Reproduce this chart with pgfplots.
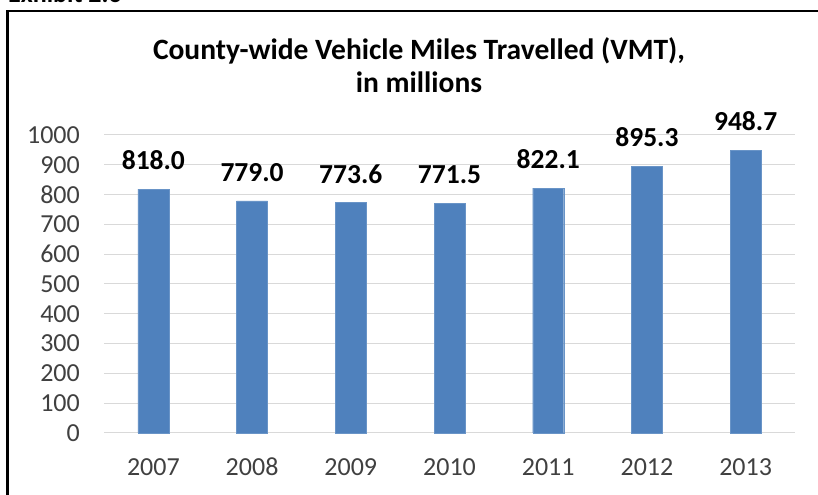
\documentclass[border=0pt]{standalone}
\usepackage{fontspec}
\setmainfont{Carlito}
\usepackage{pgfplots}
\pgfplotsset{compat=1.18}
\definecolor{barblue}{HTML}{4F81BD}
\definecolor{gridgray}{HTML}{D9D9D9}
\definecolor{ticktext}{HTML}{404040}

\begin{document}
\begin{tikzpicture}[x=1bp,y=1bp]
\path[use as bounding box] (0,0) rectangle (818,495);
\begin{scope}
  \clip (0,0) rectangle (818,495);
  \node[anchor=base west, inner sep=0, font=\fontsize{26bp}{30bp}\selectfont\bfseries] at (8,492.5) {Exhibit 2.6};
  \draw[line width=2.2bp] (7.5,-5) -- (7.5,484) -- (830,484);
\end{scope}
\node[anchor=base, font=\fontsize{29.5bp}{32bp}\selectfont\bfseries] at (419,435) {County-wide Vehicle Miles Travelled (VMT),};
\node[anchor=base, font=\fontsize{29.5bp}{32bp}\selectfont\bfseries] at (419,402) {in millions};
\begin{axis}[
  at={(104bp,62bp)}, anchor=south west,
  scale only axis, width=691bp, height=298bp,
  xmin=-0.5, xmax=6.5, ymin=0, ymax=1000,
  ybar, bar width=31bp,
  xtick={0,...,6}, xticklabels={2007,2008,2009,2010,2011,2012,2013},
  ytick={0,100,...,1000},
  axis line style={draw=none},
  ymajorgrids, grid style={gridgray, line width=1bp},
  major tick length=0pt,
  /pgf/number format/assume math mode=true,
  /pgf/number format/set thousands separator={},
  tick label style={font=\fontsize{26bp}{28bp}\selectfont, text=ticktext},
  yticklabel style={inner sep=0pt, xshift=-24bp},
  xticklabel style={inner sep=0pt, yshift=-25bp},
  clip=false,
  nodes near coords={\pgfmathprintnumber[fixed, fixed zerofill, precision=1]{\pgfplotspointmeta}},
  nodes near coords style={anchor=south, inner sep=0pt, yshift=19bp,
    font=\fontsize{27.5bp}{30bp}\selectfont\bfseries, text=black},
]
\addplot[fill=barblue, draw=barblue!85!white] coordinates {
  (0,818.0) (1,779.0) (2,773.6) (3,771.5) (4,822.1) (5,895.3) (6,948.7)
};
\end{axis}
\end{tikzpicture}
\end{document}
